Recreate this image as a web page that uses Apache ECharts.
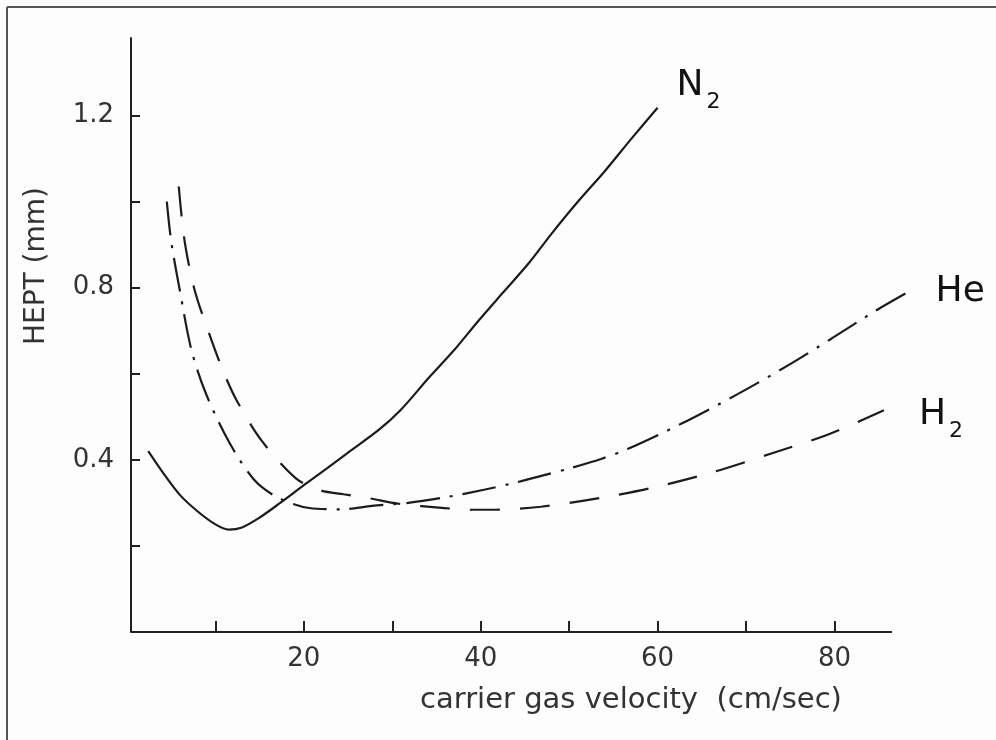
<!DOCTYPE html>
<html>
<head>
<meta charset="utf-8">
<title>HEPT vs carrier gas velocity</title>
<script src="https://cdn.jsdelivr.net/npm/echarts@6/dist/echarts.min.js"></script>
<style>
    html, body { margin: 0; padding: 0; background: #fff; }
    #chart { width: 996px; height: 740px; }
</style>
</head>
<body>
<div id="chart"></div>
<script>
    // [velocity cm/sec, HEPT mm]
    const n2Curve = [
        [2.4, 0.42], [4, 0.372], [6, 0.318], [8, 0.28], [10, 0.25], [11.5, 0.238],
        [13, 0.243], [15, 0.266], [17.2, 0.298], [20, 0.341], [22.8, 0.383], [25, 0.417],
        [28.5, 0.47], [31, 0.517], [34.1, 0.59], [37, 0.655], [39.7, 0.722], [42.5, 0.788],
        [45.4, 0.856], [48, 0.925], [51, 1.0], [54, 1.07], [57, 1.145], [60, 1.218]
    ];
    const heCurve = [
        [4.5, 1.0], [5.0, 0.907], [5.96, 0.795], [7.3, 0.654], [9.0, 0.55], [11.6, 0.439],
        [14.4, 0.353], [17, 0.313], [20.6, 0.288], [24.3, 0.285], [27.7, 0.293], [31.8, 0.30],
        [36, 0.313], [40.5, 0.331], [43.9, 0.347], [47.3, 0.365], [50.2, 0.381], [53.6, 0.402],
        [56.6, 0.425], [62.6, 0.483], [69, 0.552], [74.8, 0.62], [79.7, 0.682], [84.7, 0.747],
        [88.5, 0.792]
    ];
    const h2Curve = [
        [5.85, 1.035], [6.5, 0.91], [7.65, 0.794], [9.57, 0.677], [11.0, 0.6], [12.4, 0.538],
        [15.2, 0.445], [19.1, 0.357], [21.9, 0.329], [24.5, 0.32], [27.3, 0.311], [30.7, 0.298],
        [35.9, 0.288], [38.6, 0.284], [41.6, 0.284], [46.8, 0.291], [53.4, 0.311], [59.2, 0.334],
        [66.2, 0.371], [72.6, 0.413], [79.3, 0.459], [85.6, 0.515]
    ];

    const xTicks = [10, 20, 30, 40, 50, 60, 70, 80];
    const xLabels = [20, 40, 60, 80];
    const xAxisStart = 0.45;  // the y axis sits a little right of zero in the drawing
    const xAxisEnd = 86.5;    // the drawn axis stops here, the He curve runs past it
    const yTicks = [0.2, 0.4, 0.6, 0.8, 1.0, 1.2];
    const yLabels = [0.4, 0.8, 1.2];

    const font = 'DejaVu Sans';
    const ink = '#1c1c1c';

    function gasLabel (main, sub, dx, dy) {
        return {
            show: true,
            formatter: sub ? '{m|' + main + '}{s|' + sub + '}' : '{m|' + main + '}',
            offset: [dx, dy],
            rich: {
                m: { fontFamily: font, fontSize: 36, color: '#111', lineHeight: 36 },
                s: { fontFamily: font, fontSize: 22, color: '#111', lineHeight: 22, padding: [34, 0, 0, 3] }
            }
        };
    }

    const myChart = echarts.init(document.getElementById('chart'));
    const option = {
        backgroundColor: '#fdfdfd',
        animation: false,
        grid: { left: 131, right: 82, top: 38, bottom: 108 },
        graphic: [
            { type: 'line', shape: { x1: 7, y1: 7, x2: 996, y2: 7 }, style: { stroke: '#555', lineWidth: 2 } },
            { type: 'line', shape: { x1: 7, y1: 7, x2: 7, y2: 740 }, style: { stroke: '#555', lineWidth: 2 } }
        ],
        xAxis: {
            type: 'value',
            min: xAxisStart,
            max: 89,
            name: 'carrier gas velocity  (cm/sec)',
            nameLocation: 'middle',
            nameGap: 54,
            nameTextStyle: { fontFamily: font, fontSize: 29, color: '#333', padding: [0, 0, 0, 217] },
            splitLine: { show: false },
            axisLine: { show: false },
            axisTick: { inside: true, length: 11, customValues: xTicks, lineStyle: { color: '#222', width: 2 } },
            axisLabel: { customValues: xLabels, margin: 14, fontFamily: font, fontSize: 26, color: '#333' }
        },
        yAxis: {
            type: 'value',
            min: 0,
            max: 1.38,
            name: 'HEPT (mm)',
            nameLocation: 'middle',
            nameRotate: 90,
            nameGap: 80,
            nameTextStyle: { fontFamily: font, fontSize: 28, color: '#333', padding: [0, 0, 0, 138] },
            splitLine: { show: false },
            axisLine: { show: true, lineStyle: { color: '#222', width: 2 } },
            axisTick: { show: true, inside: true, length: 9, customValues: yTicks, lineStyle: { color: '#222', width: 2 } },
            axisLabel: {
                customValues: yLabels,
                margin: 17,
                fontFamily: font,
                fontSize: 26,
                color: '#333',
                formatter: function (v) { return v.toFixed(1); }
            }
        },
        series: [
            {
                name: 'N2',
                type: 'line',
                data: n2Curve,
                smooth: 0.3,
                showSymbol: false,
                clip: false,
                lineStyle: { color: ink, width: 2.2, type: 'solid' },
                endLabel: gasLabel('N', '2', 11, -22),
                // x axis line, only as far as the original drawing goes
                markLine: {
                    silent: true,
                    symbol: 'none',
                    label: { show: false },
                    lineStyle: { color: '#222', width: 2, type: 'solid' },
                    data: [[{ coord: [xAxisStart, 0] }, { coord: [xAxisEnd, 0] }]]
                }
            },
            {
                name: 'He',
                type: 'line',
                data: heCurve,
                smooth: 0.3,
                showSymbol: false,
                clip: false,
                lineStyle: { color: ink, width: 2.2, type: [34, 10, 3, 10] },
                endLabel: gasLabel('He', '', 18, 1)
            },
            {
                name: 'H2',
                type: 'line',
                data: h2Curve,
                smooth: 0.3,
                showSymbol: false,
                clip: false,
                lineStyle: { color: ink, width: 2.2, type: [30, 20] },
                endLabel: gasLabel('H', '2', 27, 4)
            }
        ]
    };
    myChart.setOption(option);
</script>
</body>
</html>
